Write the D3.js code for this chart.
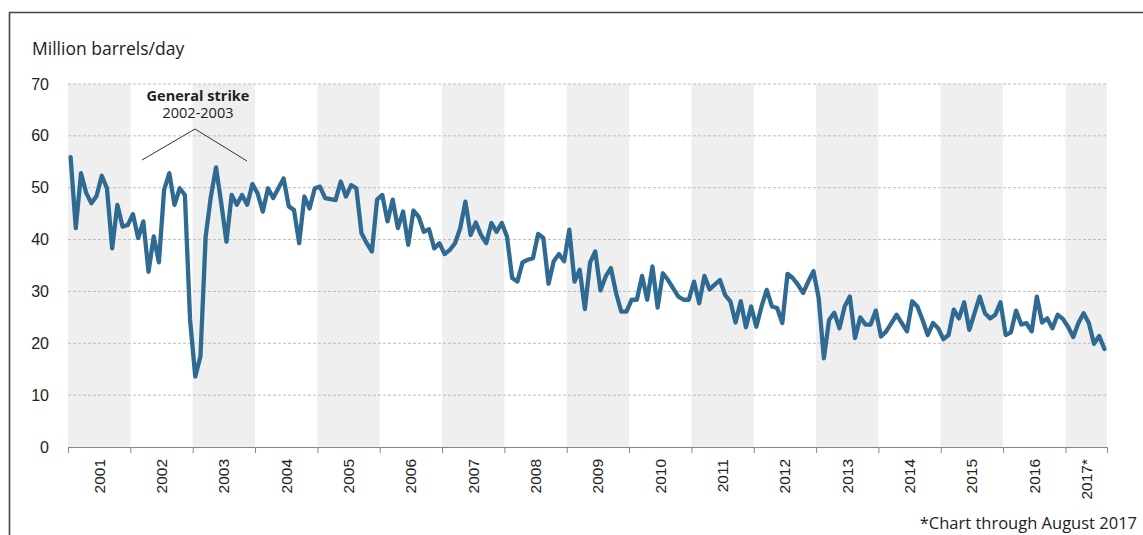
<!DOCTYPE html>
<html>
<head>
<meta charset="utf-8">
<script src="https://cdn.jsdelivr.net/npm/d3@7"></script>
<style>
  body { margin: 0; background: #fff; }
  svg { display: block; }
</style>
</head>
<body>
<div id="chart"></div>
<script>
// monthly production, Jan 2001 - Aug 2017 (million barrels/day)
var years = ["2001","2002","2003","2004","2005","2006","2007","2008","2009","2010","2011","2012","2013","2014","2015","2016","2017*"]
var yTicks = [0, 10, 20, 30, 40, 50, 60, 70]
var production = [
  55.9, 42.2, 52.8, 49.0, 47.0, 48.4, 52.3, 49.9, 38.3, 46.7, 42.5, 42.8,
  44.9, 40.3, 43.5, 33.8, 40.6, 35.6, 49.6, 52.8, 46.7, 49.9, 48.6, 24.5,
  13.6, 17.5, 40.6, 48.3, 53.9, 47.0, 39.6, 48.6, 46.7, 48.6, 46.7, 50.7,
  48.9, 45.4, 49.9, 48.0, 49.9, 51.8, 46.4, 45.7, 39.3, 48.3, 46.0, 49.9,
  50.2, 48.0, 47.8, 47.6, 51.2, 48.3, 50.5, 49.9, 41.2, 39.3, 37.7, 47.7,
  48.6, 43.5, 47.7, 42.2, 45.4, 39.0, 45.6, 44.4, 41.5, 42.0, 38.3, 39.3,
  37.2, 38.0, 39.3, 42.2, 47.3, 40.9, 43.3, 40.9, 39.3, 43.2, 41.5, 43.2,
  40.6, 32.6, 31.9, 35.6, 36.1, 36.4, 41.1, 40.3, 31.5, 35.8, 37.2, 35.8,
  41.9, 31.9, 34.2, 26.6, 35.6, 37.7, 30.2, 32.9, 34.5, 29.7, 26.1, 26.1,
  28.4, 28.4, 33.0, 28.4, 34.8, 26.9, 33.5, 32.2, 30.6, 29.0, 28.4, 28.4,
  31.9, 27.7, 33.0, 30.4, 31.3, 32.2, 29.3, 28.1, 24.0, 28.1, 23.1, 27.1,
  23.2, 27.1, 30.3, 27.1, 26.8, 23.9, 33.4, 32.6, 31.3, 29.7, 31.9, 33.9,
  28.7, 17.1, 24.5, 25.9, 22.9, 27.1, 29.0, 21.0, 25.0, 23.6, 23.6, 26.3,
  21.3, 22.3, 23.9, 25.5, 23.9, 22.3, 28.1, 27.1, 24.5, 21.6, 23.9, 22.9,
  20.8, 21.6, 26.5, 24.8, 27.9, 22.6, 25.8, 29.0, 25.8, 24.8, 25.5, 27.9,
  21.6, 22.1, 26.3, 23.6, 23.9, 22.3, 29.0, 24.0, 24.8, 22.9, 25.5, 24.7,
  23.2, 21.2, 23.9, 25.8, 23.9, 19.9, 21.4, 18.9
]

const W = 1143, H = 535
const margin = { left: 68, right: 36, top: 84, bottom: 88 }
const plotW = W - margin.left - margin.right
const plotH = H - margin.top - margin.bottom
const textFont = "Open Sans, Lato, sans-serif"
const numFont = "Liberation Sans, Arial, sans-serif"

var svg = d3.select("#chart").append("svg")
    .attr("width", W)
    .attr("height", H)

// frame
svg.append("path")
    .attr("d", "M9.5,535 V12.5 H1143")
    .attr("fill", "none")
    .attr("stroke", "#444")
    .attr("stroke-width", 1.6)

var g = svg.append("g").attr("transform", `translate(${margin.left},${margin.top})`)

var n = production.length
// months as continuous index; each year spans 12 months
var x = d3.scaleLinear().domain([0, n]).range([0, plotW])
var y = d3.scaleLinear().domain([0, 70]).range([plotH, 0])

// alternating year bands
g.selectAll("rect.band")
    .data(years)
    .enter()
    .append("rect")
    .attr("class", "band")
    .attr("x", (d, i) => x(i * 12))
    .attr("width", (d, i) => x(Math.min((i + 1) * 12, n)) - x(i * 12))
    .attr("y", 0)
    .attr("height", plotH)
    .attr("fill", (d, i) => i % 2 === 0 ? "#efefef" : "none")

// gridlines
g.selectAll("line.grid")
    .data(yTicks.filter(d => d > 0))
    .enter()
    .append("line")
    .attr("class", "grid")
    .attr("x1", 0)
    .attr("x2", plotW)
    .attr("y1", d => y(d))
    .attr("y2", d => y(d))
    .attr("stroke", "#bdbdbd")
    .attr("stroke-width", 1)
    .attr("stroke-dasharray", "3,2")

// y axis labels
var yAxis = g.append("g")
    .call(d3.axisLeft(y).tickValues(yTicks).tickSize(0).tickPadding(19))
yAxis.select(".domain").remove()
yAxis.selectAll("text")
    .attr("font-family", numFont)
    .attr("font-size", 16)
    .attr("fill", "#222")

// x axis: ticks at year boundaries
var bounds = d3.range(0, years.length).map(i => i * 12)
var xAxis = g.append("g")
    .attr("transform", `translate(0,${plotH})`)
    .call(d3.axisBottom(x).tickValues(bounds).tickSize(6).tickFormat(""))
xAxis.select(".domain").attr("stroke", "#888")
xAxis.selectAll(".tick line").attr("stroke", "#888")

g.selectAll("text.year")
    .data(years)
    .enter()
    .append("text")
    .attr("class", "year")
    .attr("transform", (d, i) => {
        var cx = (x(i * 12) + x(Math.min((i + 1) * 12, n))) / 2
        return `translate(${cx + 5.5},${plotH + 12}) rotate(-90)`
    })
    .attr("text-anchor", "end")
    .attr("font-family", numFont)
    .attr("font-size", 15.5)
    .attr("fill", "#222")
    .text(d => d)

// production line
var line = d3.line()
    .x((d, i) => x(i + 0.5))
    .y(d => y(d))

g.append("path")
    .datum(production)
    .attr("d", line)
    .attr("fill", "none")
    .attr("stroke", "#2f6a92")
    .attr("stroke-width", 4.3)
    .attr("stroke-linejoin", "round")
    .attr("stroke-linecap", "round")

// axis title
svg.append("text")
    .attr("x", 32)
    .attr("y", 55)
    .attr("font-family", textFont)
    .attr("font-size", 17.5)
    .attr("fill", "#222")
    .text("Million barrels/day")

// general strike annotation
svg.append("text")
    .attr("x", 198)
    .attr("y", 101)
    .attr("text-anchor", "middle")
    .attr("font-family", textFont)
    .attr("font-weight", "bold")
    .attr("font-size", 14.5)
    .attr("fill", "#222")
    .text("General strike")

svg.append("text")
    .attr("x", 198)
    .attr("y", 118)
    .attr("text-anchor", "middle")
    .attr("font-family", textFont)
    .attr("font-size", 14.5)
    .attr("fill", "#222")
    .text("2002-2003")

svg.append("path")
    .attr("d", "M142,160 L195,129 L247,161")
    .attr("fill", "none")
    .attr("stroke", "#333")
    .attr("stroke-width", 1)

// footnote
svg.append("text")
    .attr("x", 1137)
    .attr("y", 529)
    .attr("text-anchor", "end")
    .attr("font-family", textFont)
    .attr("font-size", 16.5)
    .attr("fill", "#222")
    .text("*Chart through August 2017")
</script>
</body>
</html>
